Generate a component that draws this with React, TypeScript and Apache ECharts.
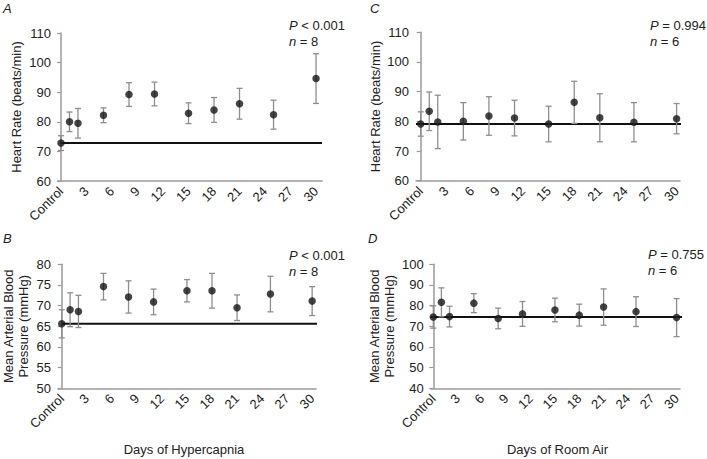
import React, { useEffect, useRef } from "react";
import * as echarts from "echarts";

// Measurement days (Control = day 0)
const days = [0, 1, 2, 5, 8, 11, 15, 18, 21, 25, 30];
const tickDays = [0, 3, 6, 9, 12, 15, 18, 21, 24, 27, 30];

// A: Heart rate, hypercapnia
const hrHyperMean = [72.8, 80.0, 79.5, 82.2, 89.2, 89.4, 82.9, 84.0, 86.1, 82.4, 94.6];
const hrHyperErr = [2.5, 3.3, 5.0, 2.5, 4.0, 4.0, 3.5, 4.2, 5.2, 4.9, 8.4];
// B: Mean arterial blood pressure, hypercapnia
const mapHyperMean = [65.6, 69.0, 68.6, 74.6, 72.1, 70.9, 73.6, 73.6, 69.5, 72.8, 71.1];
const mapHyperErr = [3.4, 4.1, 3.9, 3.2, 3.9, 3.1, 2.7, 4.2, 3.1, 4.3, 3.5];
// C: Heart rate, room air
const hrAirMean = [79.1, 83.4, 79.8, 80.0, 81.8, 81.1, 79.1, 86.4, 81.2, 79.7, 80.9];
const hrAirErr = [4.1, 6.5, 9.0, 6.3, 6.5, 6.0, 6.0, 7.1, 8.1, 6.6, 5.1];
// D: Mean arterial blood pressure, room air
const mapAirMean = [74.5, 81.6, 74.7, 81.2, 73.8, 76.0, 77.9, 75.4, 79.3, 77.1, 74.2];
const mapAirErr = [5.4, 7.0, 5.0, 4.6, 5.0, 6.0, 5.7, 5.3, 8.8, 7.2, 9.2];

const FONT = "'Liberation Sans', Arial, Helvetica, sans-serif";
const TXT = "#222";
const AXIS = "#9a9a9a";
const BAR = "#8e8e8e";

type Panel = {
  grid: { left: number; top: number; width: number; height: number };
  xMin: number;
  xMax: number;
  yMin: number;
  yMax: number;
  yInt: number;
  yName: string;
  nameGap: number;
  mean: number[];
  err: number[];
  lineStart: number;
  lineEnd: number;
};

const panels: Panel[] = [
  {
    grid: { left: 58, top: 33, width: 264, height: 148 },
    xMin: -0.35, xMax: 30.7, yMin: 60, yMax: 110, yInt: 10,
    yName: "Heart Rate (beats/min)", nameGap: 34,
    mean: hrHyperMean, err: hrHyperErr, lineStart: -0.1, lineEnd: 30.7,
  },
  {
    grid: { left: 54.5, top: 264.3, width: 261.5, height: 124 },
    xMin: -0.45, xMax: 30.46, yMin: 50, yMax: 80, yInt: 5,
    yName: "Mean Arterial Blood\nPressure (mmHg)", nameGap: 27,
    mean: mapHyperMean, err: mapHyperErr, lineStart: 0, lineEnd: 30.8,
  },
  {
    grid: { left: 416, top: 32.3, width: 264, height: 148.4 },
    xMin: -0.55, xMax: 30.4, yMin: 60, yMax: 110, yInt: 10,
    yName: "Heart Rate (beats/min)", nameGap: 32,
    mean: hrAirMean, err: hrAirErr, lineStart: -0.55, lineEnd: 31.05,
  },
  {
    grid: { left: 430.7, top: 264.3, width: 249.3, height: 124 },
    xMin: -0.32, xMax: 30.42, yMin: 40, yMax: 100, yInt: 10,
    yName: "Mean Arterial Blood\nPressure (mmHg)", nameGap: 34,
    mean: mapAirMean, err: mapAirErr, lineStart: -0.32, lineEnd: 31.1,
  },
];

const statTexts = [
  { x: 289, y: 17.5, p: " < 0.001", n: " = 8" },
  { x: 289, y: 247, p: " < 0.001", n: " = 8" },
  { x: 650, y: 17.5, p: " = 0.994", n: " = 6" },
  { x: 648, y: 246, p: " = 0.755", n: " = 6" },
];

const letters = [
  { t: "A", x: 3, y: 2 },
  { t: "B", x: 3, y: 232 },
  { t: "C", x: 370, y: 2 },
  { t: "D", x: 368, y: 232 },
];

function buildOption() {
  const grids: any[] = [];
  const xAxes: any[] = [];
  const yAxes: any[] = [];
  const series: any[] = [];

  panels.forEach((p, i) => {
    grids.push({ ...p.grid, containLabel: false });
    xAxes.push({
      type: "value",
      gridIndex: i,
      min: p.xMin,
      max: p.xMax,
      axisLine: { show: true, onZero: false, lineStyle: { color: AXIS, width: 1.5 } },
      axisTick: { show: false },
      splitLine: { show: false },
      axisLabel: {
        customValues: tickDays,
        rotate: 45,
        margin: 8,
        fontSize: 13,
        fontFamily: FONT,
        color: TXT,
        formatter: (v: number) => (v === 0 ? "Control" : String(v)),
      },
    });
    yAxes.push({
      type: "value",
      gridIndex: i,
      min: p.yMin,
      max: p.yMax,
      interval: p.yInt,
      name: p.yName,
      nameLocation: "middle",
      nameGap: p.nameGap,
      nameTextStyle: { fontSize: 13, fontFamily: FONT, color: TXT, lineHeight: 15 },
      axisLine: { show: true, lineStyle: { color: AXIS, width: 1.5 } },
      axisTick: { show: true, length: 4, lineStyle: { color: AXIS, width: 1.2 } },
      splitLine: { show: false },
      axisLabel: { fontSize: 13, fontFamily: FONT, color: TXT, margin: 7 },
    });

    const ctrl = p.mean[0];
    series.push({
      type: "line",
      xAxisIndex: i,
      yAxisIndex: i,
      data: [
        [p.lineStart, ctrl],
        [p.lineEnd, ctrl],
      ],
      symbol: "none",
      clip: false,
      silent: true,
      z: 2,
      lineStyle: { color: "#111", width: 2 },
    });

    series.push({
      type: "custom",
      xAxisIndex: i,
      yAxisIndex: i,
      z: 3,
      silent: true,
      data: days.map((d, k) => [d, p.mean[k] - p.err[k], p.mean[k] + p.err[k]]),
      renderItem: (_params: any, api: any) => {
        const x = api.value(0);
        const top = api.coord([x, api.value(2)]);
        const bot = api.coord([x, api.value(1)]);
        const cw = 3;
        const style = { stroke: BAR, lineWidth: 1.3 };
        return {
          type: "group",
          children: [
            { type: "line", shape: { x1: top[0], y1: top[1], x2: bot[0], y2: bot[1] }, style },
            { type: "line", shape: { x1: top[0] - cw, y1: top[1], x2: top[0] + cw, y2: top[1] }, style },
            { type: "line", shape: { x1: bot[0] - cw, y1: bot[1], x2: bot[0] + cw, y2: bot[1] }, style },
          ],
        };
      },
    });

    series.push({
      type: "scatter",
      xAxisIndex: i,
      yAxisIndex: i,
      z: 4,
      symbol: "circle",
      symbolSize: 7.5,
      itemStyle: { color: "#151515" },
      data: days.map((d, k) => [d, p.mean[k]]),
    });
  });

  const graphic: any[] = [];
  letters.forEach((l) => {
    graphic.push({
      type: "text",
      left: l.x,
      top: l.y,
      style: { text: l.t, fontSize: 13, fontStyle: "italic", fontFamily: FONT, fill: TXT },
    });
  });
  statTexts.forEach((s) => {
    graphic.push({
      type: "text",
      x: s.x,
      y: s.y,
      style: {
        text: `{i|P}${s.p}\n{i|n}${s.n}`,
        fontSize: 13,
        fontFamily: FONT,
        fill: TXT,
        lineHeight: 16,
        verticalAlign: "top",
        rich: {
          i: { fontStyle: "italic", fontSize: 13, fontFamily: FONT, fill: TXT, lineHeight: 16 },
        },
      },
    });
  });
  graphic.push({
    type: "text",
    x: 184,
    y: 449,
    style: { text: "Days of Hypercapnia", fontSize: 13, fontFamily: FONT, fill: TXT, align: "center", verticalAlign: "middle" },
  });
  graphic.push({
    type: "text",
    x: 557.5,
    y: 449,
    style: { text: "Days of Room Air", fontSize: 13, fontFamily: FONT, fill: TXT, align: "center", verticalAlign: "middle" },
  });

  return {
    animation: false,
    backgroundColor: "#ffffff",
    grid: grids,
    xAxis: xAxes,
    yAxis: yAxes,
    series,
    graphic,
  };
}

export default function App() {
  const ref = useRef<HTMLDivElement>(null);
  useEffect(() => {
    if (!ref.current) return;
    const chart = echarts.init(ref.current, undefined, { renderer: "svg" });
    chart.setOption(buildOption());
    return () => chart.dispose();
  }, []);
  return (
    <div
      ref={ref}
      style={{ position: "absolute", left: 0, top: 0, width: 707, height: 459, background: "#fff" }}
    />
  );
}
